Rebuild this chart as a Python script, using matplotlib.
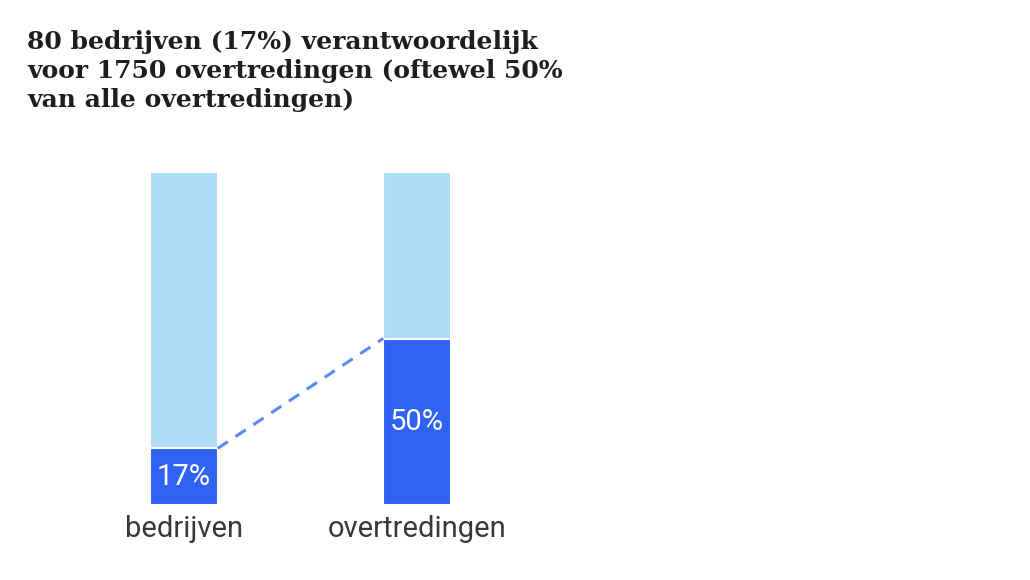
import matplotlib.pyplot as plt

categories = ['bedrijven', 'overtredingen']
share = [17, 50]
rest = [100 - s for s in share]
labels = ['17%', '50%']
title = '80 bedrijven (17%) verantwoordelijk\nvoor 1750 overtredingen (oftewel 50%\nvan alle overtredingen)'

dark = '#2f63f6'
light = '#aedcf6'
width = 0.29

fig = plt.figure(figsize=(10.3, 5.8), dpi=100)
ax = fig.add_axes([100 / 1030, 75 / 580, 400 / 1030, 333 / 580])
x = list(range(len(categories)))

ax.bar(x, share, width=width, color=dark, edgecolor='white', linewidth=1.5)
ax.bar(x, rest, bottom=share, width=width, color=light, edgecolor='white', linewidth=1.5)

# dashed connector from top of first dark block to top of second
ax.plot([x[0] + width / 2, x[1] - width / 2], [share[0], share[1]],
        ls=(0, (4, 3)), color='#5a88f4', lw=2.2, zorder=3)

for xi, s, lab in zip(x, share, labels):
    ax.text(xi, s / 2, lab, ha='center', va='center', color='white',
            fontsize=21, family='Roboto')

for xi, c in zip(x, categories):
    ax.text(xi, -3, c, ha='center', va='top', color='#383838',
            fontsize=21, family='Roboto')

ax.set_xlim(-0.36, 1.356)
ax.set_ylim(0, 100)
ax.axis('off')

fig.text(27 / 1030, 1 - 30 / 580, title, ha='left', va='top', fontsize=18,
         family='DejaVu Serif', weight='bold', color='#1e1e1e',
         linespacing=1.27)

fig.savefig('out.png', dpi=100)
